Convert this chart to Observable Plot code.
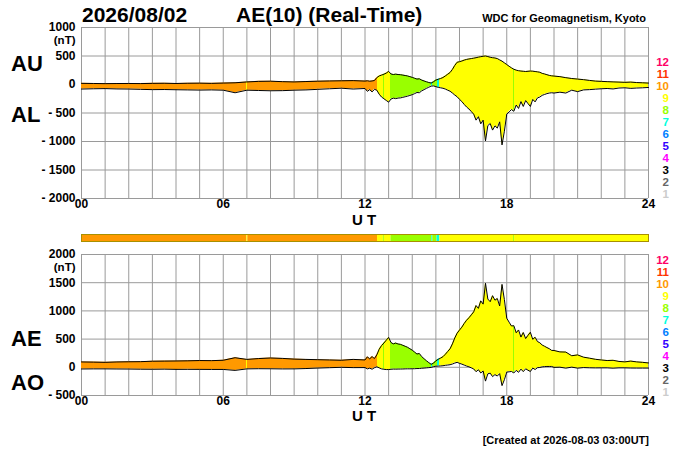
<!DOCTYPE html>
<html><head><meta charset="utf-8">
<script src="https://cdn.jsdelivr.net/npm/d3@7"></script>
<script src="https://cdn.jsdelivr.net/npm/@observablehq/plot@0.6"></script>
<style>
body{margin:0;background:#fff;}
#c{position:relative;width:700px;height:450px;overflow:hidden;background:#fff;}
#c svg{position:absolute;left:0;overflow:visible;}
</style></head><body><div id="c"></div>
<script>
// ---- data (UT hours) ----
const hours = [
  0,0.5,1,1.5,2,2.5,3,3.5,4,4.5,5,5.5,6,6.5,7,7.5,8,8.5,9,9.5,10,10.5,11,11.5,
  12.0,12.1,12.2,12.3,12.4,12.5,12.6,12.7,12.8,12.9,13.0,13.1,13.2,13.3,13.4,13.5,13.6,13.7,13.8,13.9,
  14.0,14.1,14.2,14.3,14.4,14.5,14.6,14.7,14.8,14.9,15.0,15.1,15.2,15.3,15.4,15.5,15.6,15.7,15.8,15.9,
  16.0,16.1,16.2,16.3,16.4,16.5,16.6,16.7,16.8,16.9,17.0,17.1,17.2,17.3,17.4,17.5,17.6,17.7,17.8,17.9,
  18.0,18.1,18.2,18.3,18.4,18.5,18.6,18.7,18.8,18.9,19.0,19.1,19.2,19.3,19.4,19.5,19.6,19.7,19.8,19.9,
  20,20.25,20.5,20.75,21,21.25,21.5,21.75,22,22.25,22.5,22.75,23,23.25,23.5,23.75,24
];
const AU = [
  20,18,15,17,18,16,20,22,18,22,24,20,25,30,45,55,58,50,45,52,58,62,65,68,
  60,65,58,62,70,120,150,165,180,200,230,185,175,182,175,172,165,158,150,138,
  125,110,95,100,78,62,48,35,25,48,78,92,105,122,150,180,210,265,335,390,
  400,412,428,440,448,455,462,470,480,488,495,500,490,478,470,465,455,432,410,380,
  350,320,292,268,252,242,236,232,228,232,236,234,228,222,215,195,185,172,160,152,
  148,138,120,105,95,85,72,60,55,50,46,42,38,42,34,30,25
];
const AL = [
  -80,-75,-72,-78,-80,-85,-90,-88,-92,-95,-98,-95,-100,-145,-100,-105,-110,-108,-100,-95,-85,-75,-65,-80,
  -70,-120,-90,-130,-85,-100,-170,-220,-250,-280,-310,-255,-240,-248,-238,-235,-225,-215,-205,-192,
  -178,-160,-140,-145,-112,-90,-68,-48,-28,-25,-38,-50,-58,-66,-80,-100,-118,-150,-185,-215,
  -260,-300,-350,-395,-430,-475,-520,-625,-565,-690,-625,-990,-720,-685,-800,-725,-765,-655,-1060,-820,
  -520,-480,-440,-470,-360,-420,-300,-385,-282,-335,-385,-262,-305,-235,-220,-190,-175,-160,-150,-145,
  -150,-135,-150,-100,-125,-95,-90,-82,-75,-70,-78,-62,-58,-68,-62,-58,-52
];
const AE = [
  95,92,88,95,98,100,108,110,112,115,120,118,125,170,140,155,165,158,145,140,135,130,125,140,
  130,185,150,190,155,220,320,385,430,480,530,440,415,430,413,407,390,373,355,330,
  303,270,235,245,190,152,116,83,53,73,116,142,163,188,230,280,328,415,520,605,
  660,712,778,835,878,930,982,1095,1045,1178,1120,1490,1210,1163,1270,1190,1220,1087,1470,1200,
  870,800,732,738,612,662,536,617,510,567,621,496,533,457,435,395,373,350,330,300,
  298,273,270,205,220,180,162,142,130,120,124,104,96,110,96,88,77
];
const AO = [
  -30,-28,-28,-30,-31,-34,-35,-33,-37,-36,-37,-38,-38,-55,-28,-25,-26,-29,-28,-22,-14,-7,0,-6,
  -5,-28,-16,-34,-8,10,-10,-28,-35,-40,-40,-35,-32,-33,-31,-31,-30,-28,-27,-27,
  -26,-25,-22,-22,-17,-14,-10,-6,-2,12,20,21,24,28,35,40,46,58,75,88,
  70,56,39,22,9,-10,-29,-78,-43,-101,-65,-245,-115,-104,-165,-130,-155,-112,-325,-220,
  -85,-80,-74,-101,-54,-89,-32,-77,-27,-52,-75,-14,-39,-7,-3,8,12,15,15,15,
  -1,2,-15,3,-15,-5,-9,-11,-10,-10,-16,-10,-10,-13,-14,-14,-14
];
// number of contributing stations over time
const segStart = [0, 7.0, 7.04, 12.53, 12.78, 12.82, 13.1, 14.83, 14.87, 15.05, 15.17, 18.29, 18.33];
const segEnd   = [7.0, 7.04, 12.53, 12.78, 12.82, 13.1, 14.83, 14.87, 15.05, 15.17, 18.29, 18.33, 24];
const segCount = [10, 9, 10, 9, 8, 9, 8, 7, 8, 7, 9, 8, 9];
const stationLabels = ["12","11","10","9","8","7","6","5","4","3","2","1"];
const stationColors = {1:"#cccccc",2:"#666666",3:"#000000",4:"#ff00ff",5:"#3300ff",6:"#0080ff",
  7:"#00ffdd",8:"#99ff00",9:"#ffff00",10:"#ff9900",11:"#ff3300",12:"#ff0066"};
const xLabelTicks = [0, 6, 12, 18, 24];
const topYTicks = [-2000, -1500, -1000, -500, 0, 500, 1000];
const botYTicks = [-500, 0, 500, 1000, 1500, 2000];

// ---- build ----
const FONT = "'Liberation Sans', Arial, Helvetica, sans-serif";
const hourTicks = d3.range(0, 25);
const segments = segStart.map((s, i) => ({start: s, end: segEnd[i], count: segCount[i]}));
const topRows = hours.map((h, i) => ({h, hi: AU[i], lo: AL[i]}));
const botRows = hours.map((h, i) => ({h, hi: AE[i], lo: AO[i]}));
const fmtY = d => d < 0 ? "- " + (-d) : String(d);
const fmtX = d => String(d).padStart(2, "0");

function gradientMark(id) {
  return (index, scales) => {
    const x = scales.x;
    const x0 = x(0), w = x(24) - x0;
    const defs = d3.create("svg:defs");
    const lg = defs.append("linearGradient").attr("id", id)
      .attr("gradientUnits", "userSpaceOnUse")
      .attr("x1", x0).attr("x2", x(24)).attr("y1", 0).attr("y2", 0);
    segments.forEach(s => {
      lg.append("stop").attr("offset", (x(s.start) - x0) / w).attr("stop-color", stationColors[s.count]);
      lg.append("stop").attr("offset", (x(s.end) - x0) / w).attr("stop-color", stationColors[s.count]);
    });
    return defs.node();
  };
}

function panel(rows, yDomain, yTicks, gradId, height, mTop, mBottom) {
  return Plot.plot({
    width: 700, height,
    marginLeft: 81, marginRight: 52, marginTop: mTop, marginBottom: mBottom,
    x: {domain: [0, 24]},
    y: {domain: yDomain},
    style: {fontFamily: FONT, fontSize: "12px", fontWeight: "bold", background: "transparent", color: "#000"},
    marks: [
      gradientMark(gradId),
      Plot.gridX(hourTicks, {stroke: "#9a9a9a", strokeOpacity: 1}),
      Plot.gridY(yTicks, {stroke: "#9a9a9a", strokeOpacity: 1}),
      Plot.areaY(rows, {x: "h", y1: "lo", y2: "hi", fill: `url(#${gradId})`}),
      Plot.lineY(rows, {x: "h", y: "hi", stroke: "#000", strokeWidth: 1}),
      Plot.lineY(rows, {x: "h", y: "lo", stroke: "#000", strokeWidth: 1}),
      Plot.axisX(xLabelTicks, {tickSize: 0, tickPadding: 1, tickFormat: fmtX, label: null}),
      Plot.axisY(yTicks, {tickSize: 0, tickPadding: 6, tickFormat: fmtY, label: null}),
      Plot.text(["(nT)"], {x: 0, y: yDomain[1], text: d => d, dx: -6, dy: 13, fontSize: 11.5, textAnchor: "end"})
    ]
  });
}

const c = document.getElementById("c");
const top1 = panel(topRows, [-2000, 1000], topYTicks, "gradTop", 220, 27, 22);
top1.style.top = "0px";
c.appendChild(top1);

const bar = Plot.plot({
  width: 700, height: 7,
  marginLeft: 81, marginRight: 52, marginTop: 0, marginBottom: 0,
  x: {domain: [0, 24], axis: null},
  color: {type: "identity"},
  marks: [
    Plot.rect(segments, {x1: "start", x2: "end", fill: d => stationColors[d.count]}),
    Plot.frame({stroke: "#a89000", strokeWidth: 1})
  ]
});
bar.style.top = "234px";
c.appendChild(bar);

const bot = panel(botRows, [-500, 2000], botYTicks, "gradBot", 190, 24, 25);
bot.style.top = "230px";
c.appendChild(bot);

// ---- text overlay ----
const ov = d3.select(c).append("svg").attr("width", 700).attr("height", 450)
  .style("top", "0px").attr("font-family", FONT).attr("font-weight", "bold").attr("fill", "#000");
const txt = (x, y, s, size, anchor = "start", fill = "#000") =>
  ov.append("text").attr("x", x).attr("y", y).attr("font-size", size)
    .attr("text-anchor", anchor).attr("fill", fill).text(s);
txt(82, 22, "2026/08/02", 21);
txt(236, 22, "AE(10) (Real-Time)", 21);
txt(646, 22, "WDC for Geomagnetism, Kyoto", 11, "end");
txt(11, 71, "AU", 22);
txt(11, 122, "AL", 22);
txt(11, 346, "AE", 22);
txt(11, 390, "AO", 22);
txt(364, 224.5, "U T", 15, "middle");
txt(364, 421, "U T", 15, "middle");
txt(649, 444, "[Created at 2026-08-03 03:00UT]", 11, "end");
stationLabels.forEach((s, i) => {
  const col = stationColors[+s];
  txt(669, 65.5 + i * 12, s, 11.5, "end", col);
  txt(669, 263.5 + i * 12, s, 11.5, "end", col);
});
</script>
</body></html>
